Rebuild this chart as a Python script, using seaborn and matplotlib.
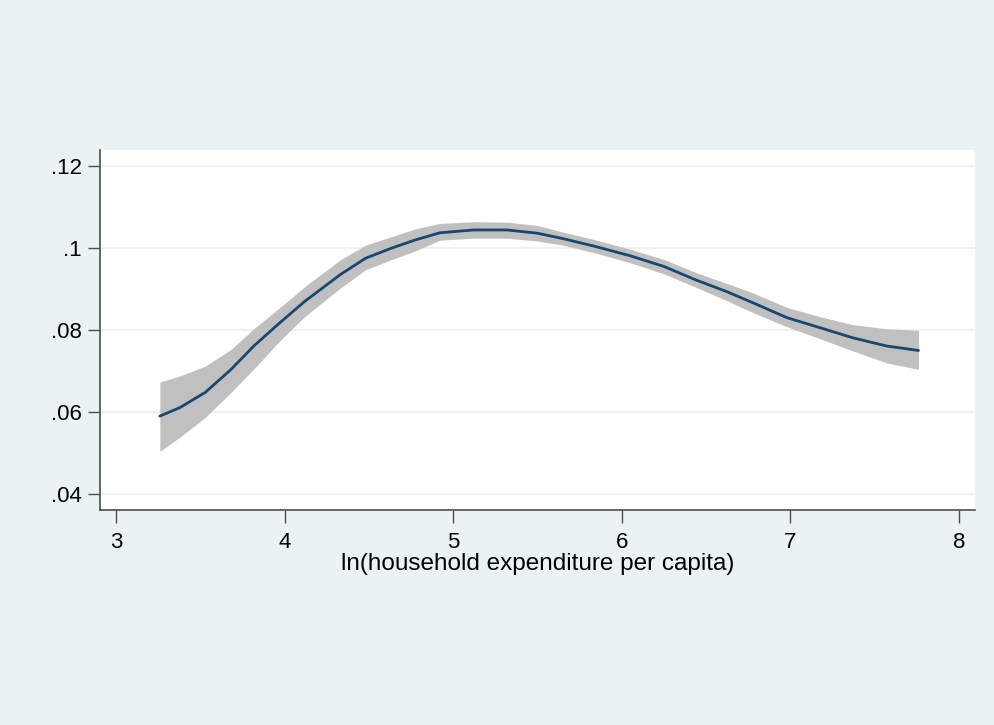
import matplotlib
matplotlib.use("Agg")
import matplotlib.pyplot as plt
import pandas as pd
import seaborn as sns

# values (smoothed fit with confidence band)
x_vals = [3.26, 3.38, 3.53, 3.68, 3.82, 3.97, 4.12, 4.33, 4.48, 4.63, 4.77, 4.92, 5.12,
          5.32, 5.50, 5.65, 5.85, 6.05, 6.25, 6.44, 6.62, 6.78, 6.98, 7.18, 7.37, 7.57, 7.76]
fit_vals = [0.0590, 0.0611, 0.0648, 0.0703, 0.0762, 0.0817, 0.0870, 0.0935, 0.0975, 0.0999,
            0.1019, 0.1037, 0.1044, 0.1044, 0.1036, 0.1023, 0.1003, 0.0981, 0.0955, 0.0922,
            0.0894, 0.0866, 0.0830, 0.0805, 0.0781, 0.0761, 0.0750]
upper_vals = [0.0673, 0.0688, 0.0712, 0.0752, 0.0804, 0.0854, 0.0906, 0.0971, 0.1007, 0.1027,
              0.1046, 0.1060, 0.1064, 0.1063, 0.1055, 0.1039, 0.1019, 0.0997, 0.0972, 0.0940,
              0.0914, 0.0890, 0.0855, 0.0832, 0.0813, 0.0803, 0.0799]
lower_vals = [0.0504, 0.0539, 0.0587, 0.0647, 0.0706, 0.0773, 0.0833, 0.0902, 0.0947, 0.0971,
              0.0992, 0.1019, 0.1024, 0.1024, 0.1017, 0.1007, 0.0987, 0.0964, 0.0937, 0.0904,
              0.0872, 0.0842, 0.0808, 0.0778, 0.0749, 0.0720, 0.0704]

y_ticks = [0.04, 0.06, 0.08, 0.10, 0.12]
y_tick_labels = [".04", ".06", ".08", ".1", ".12"]
x_ticks = [3, 4, 5, 6, 7, 8]

df = pd.DataFrame({"x": x_vals, "fit": fit_vals, "lo": lower_vals, "hi": upper_vals})

bg = "#EAF2F3"
sns.set_theme(style="white")
plt.rcParams["font.family"] = ["Liberation Sans", "DejaVu Sans"]

fig = plt.figure(figsize=(9.95, 7.25), dpi=100, facecolor=bg)
ax = fig.add_axes([100 / 995, 215 / 725, 875 / 995, 360 / 725])
ax.set_facecolor("white")

# confidence band
ax.fill_between(df["x"], df["lo"], df["hi"], color="#C0C0C0", linewidth=0, zorder=2)
# fitted line
sns.lineplot(data=df, x="x", y="fit", ax=ax, color="#1A476F", linewidth=2, zorder=3)

ax.set_xlim(2.905, 8.095)
ax.set_ylim(0.0361, 0.1239)
ax.set_xticks(x_ticks)
ax.set_xticklabels([str(t) for t in x_ticks])
ax.set_yticks(y_ticks)
ax.set_yticklabels(y_tick_labels)

ax.grid(axis="y", color=bg, linewidth=1.5, zorder=1)
ax.grid(axis="x", visible=False)

for side in ["top", "right"]:
    ax.spines[side].set_visible(False)
for side in ["left", "bottom"]:
    ax.spines[side].set_color("#4D4D4D")
    ax.spines[side].set_linewidth(1.2)

ax.tick_params(axis="both", direction="out", length=9, width=1, color="#4D4D4D",
               labelsize=16, labelcolor="black")
ax.tick_params(axis="x", bottom=True, pad=7)
ax.tick_params(axis="y", left=True, pad=4)

ax.set_xlabel("ln(household expenditure per capita)", fontsize=17.5, labelpad=0,
              color="black")
ax.set_ylabel("")

fig.savefig("out.png", dpi=100, facecolor=bg)
